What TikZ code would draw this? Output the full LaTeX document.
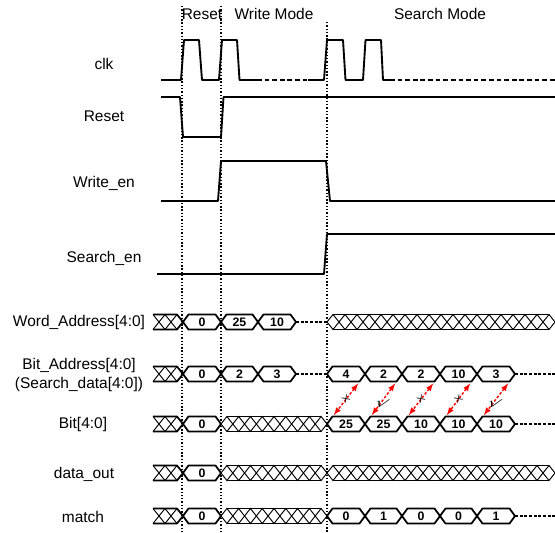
\documentclass[tikz,border=0pt]{standalone}
\usepackage{fontspec}
\setmainfont{Liberation Sans}
\usepackage{amsmath,amssymb}
\usetikzlibrary{calc}

\begin{document}
\begin{tikzpicture}[x=0.03cm,y=-0.03cm,
    sig/.style={line width=1.6pt,line join=round},
    sigdash/.style={line width=1.6pt,dash pattern=on 4pt off 2.5pt},
    bus/.style={line width=1.5pt,line join=round},
    hatch/.style={line width=0.8pt},
    guide/.style={line width=1.1pt,dash pattern=on 1.2pt off 1.6pt},
    cont/.style={line width=1.1pt,dash pattern=on 2.5pt off 1.5pt},
    lbl/.style={font=\fontsize{13.2}{16.2}\selectfont,inner sep=0pt},
    val/.style={font=\bfseries\fontsize{10.5}{11}\selectfont,inner sep=0pt},
    tick/.style={font=\fontsize{10}{10}\selectfont\boldmath,inner sep=0pt},
    chk/.style={red,line width=1.2pt,dash pattern=on 2.2pt off 1.6pt,<->,>=latex,shorten <=0.5pt,shorten >=0.5pt}]
    \useasboundingbox (0,0) rectangle (555,533);
    \def\busH{7.5}
    \def\busD{5.5}
    \foreach \x/\t in {182/6,221/6,327/22}
      \draw[guide] (\x,\t) -- (\x,533);
    \node[lbl] (mreset) at (202,14) {Reset};
    \node[lbl] (mwrite) at (274,14) {Write Mode};
    \node[lbl] (msearch) at (440,14) {Search Mode};
    \foreach \y/\n/\t in {64/lclk/clk,116/lrst/Reset,183/lwen/Write\_en,258/lsen/Search\_en}
      \node[lbl] (\n) at (104,\y) {\t};
    \node[lbl] (lwa) at (79,322) {Word\_Address[4:0]};
    \node[lbl,align=center] (lba) at (79,375) {Bit\_Address[4:0]\\(Search\_data[4:0])};
    \node[lbl] (lbt) at (83,424) {Bit[4:0]};
    \node[lbl] (ldo) at (84,474) {data\_out};
    \node[lbl] (lmt) at (83,517) {match};
    \draw[sig] (161,80) -- (181,80) -- (184,40) -- (199,40) -- (202,80) -- (219,80) -- (222,40) -- (237,40) -- (239.5,80) -- (257,80);
    \draw[sigdash] (257,80) -- (308,80);
    \draw[sig] (308,80) -- (324,80) -- (327,40) -- (343,40) -- (345.5,80) -- (363,80) -- (365.5,40) -- (381,40) -- (383,80) -- (390,80);
    \draw[sigdash] (390,80) -- (555,80);
    \draw[sig] (161,97) -- (180,97) -- (183,137) -- (221,137) -- (223.5,97) -- (555,97);
    \draw[sig] (161,201) -- (218,201) -- (221,161) -- (326,161) -- (330,201) -- (555,201);
    \draw[sig] (157,274) -- (324,274) -- (327,234) -- (555,234);
    \foreach \y in {322,374,424,473,516}{
      \draw[bus] (153,\y-\busH) -- (177,\y-\busH) -- (183,\y) -- (177,\y+\busH) -- (153,\y+\busH);
      \draw[hatch] (153,\y-\busH) -- (165,\y+\busH) -- (177,\y-\busH) (153,\y+\busH) -- (165,\y-\busH) -- (177,\y+\busH);
    }
    \foreach \y/\a/\b/\v/\n in {322/183/221/0/wa0,322/221/258/25/wa1,322/258/296/10/wa2,
        374/183/221/0/ba0,374/221/258/2/ba1,374/258/296/3/ba2,
        374/327/365/4/bs1,374/365/402/2/bs2,374/402/440/2/bs3,374/440/477/10/bs4,374/477/515/3/bs5,
        424/183/221/0/bt0,424/327/365/25/bq1,424/365/402/25/bq2,424/402/440/10/bq3,424/440/477/10/bq4,424/477/515/10/bq5,
        473/183/221/0/do0,
        516/183/221/0/mt0,516/327/365/0/mq1,516/365/402/1/mq2,516/402/440/0/mq3,516/440/477/0/mq4,516/477/515/1/mq5}{
      \draw[bus] (\a,\y) -- (\a+\busD,\y-\busH) -- (\b-\busD,\y-\busH) -- (\b,\y) -- (\b-\busD,\y+\busH) -- (\a+\busD,\y+\busH) -- cycle;
      \node[val] (\n) at ({(\a+\b)/2},\y) {\v};
    }
    \foreach \y/\a/\b/\n in {322/327/555/19,424/221/327/9,473/221/327/9,473/327/555/19,516/221/327/9}{
      \pgfmathsetmacro\w{(\b-\a)/\n}
      \draw[bus] (\a+\w/2,\y-\busH) -- (\b-\w/2,\y-\busH) (\a+\w/2,\y+\busH) -- (\b-\w/2,\y+\busH);
      \foreach \j in {1,...,\n}{
        \draw[hatch] ({\a+(\j-1)*\w},\y) -- ++(\w/2,-\busH) -- ++(\w/2,\busH) -- ++(-\w/2,\busH) -- cycle;
      }
    }
    \foreach \y/\a/\b in {322/296/327,374/296/327,374/515/555,424/515/555,516/515/555}
      \draw[cont] (\a,\y) -- (\b,\y);
    \foreach \a/\b/\m/\r/\s [count=\k] in {327/365/\times/35/0,365/402/\surd/-25/-3,402/440/\times/35/0,440/477/\times/35/0,477/515/\surd/-25/-3}{
      \coordinate (bsr\k) at (\b-\busD-1,374+\busH+1.5);
      \coordinate (bql\k) at (\a+\busD+1,424-\busH-1);
      \draw[chk] (bsr\k) -- (bql\k);
      \node[tick,rotate=\r,yshift=\s pt] (ck\k) at ($(bsr\k)!0.5!(bql\k)$) {$\m$};
    }
  \end{tikzpicture}
\end{document}
